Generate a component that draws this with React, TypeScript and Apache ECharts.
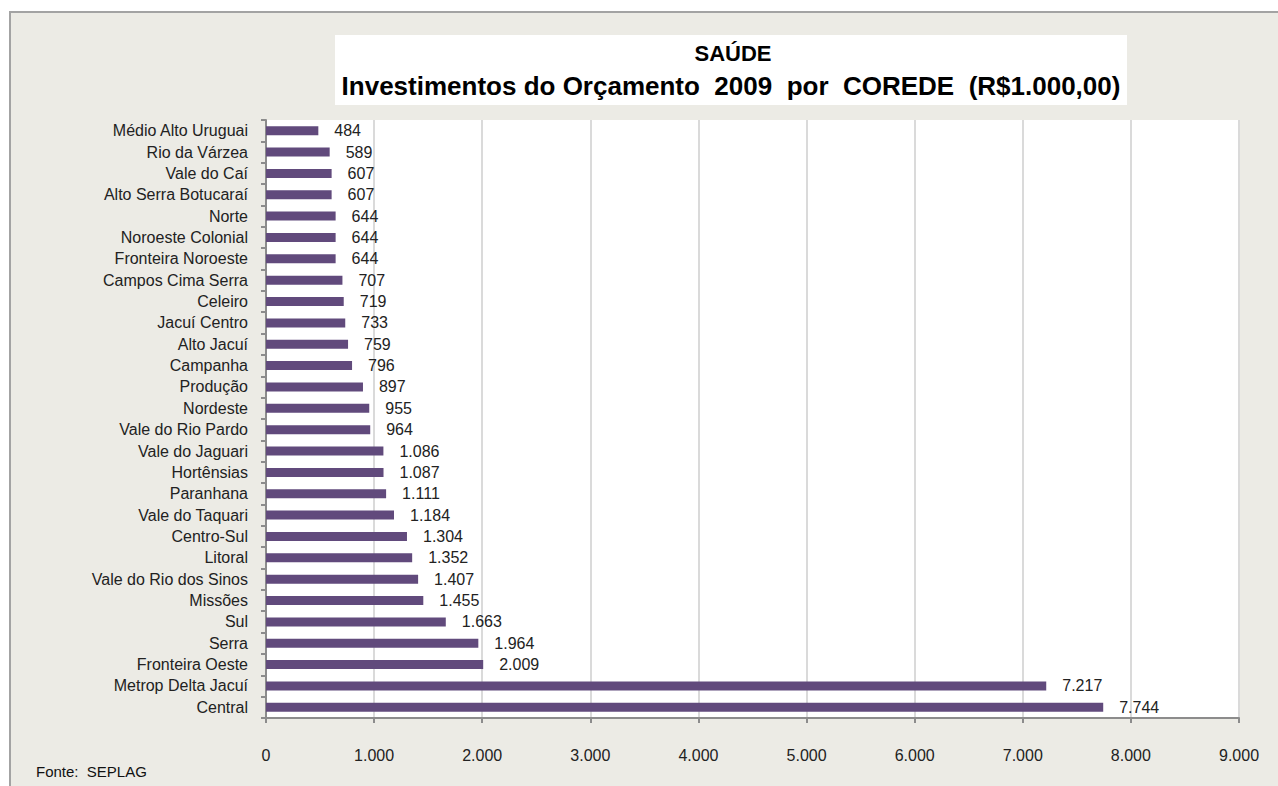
import React, { useEffect, useRef } from "react";
import * as echarts from "echarts";

const categories = [
  "Médio Alto Uruguai",
  "Rio da Várzea",
  "Vale do Caí",
  "Alto Serra Botucaraí",
  "Norte",
  "Noroeste Colonial",
  "Fronteira Noroeste",
  "Campos Cima Serra",
  "Celeiro",
  "Jacuí Centro",
  "Alto Jacuí",
  "Campanha",
  "Produção",
  "Nordeste",
  "Vale do Rio Pardo",
  "Vale do Jaguari",
  "Hortênsias",
  "Paranhana",
  "Vale do Taquari",
  "Centro-Sul",
  "Litoral",
  "Vale do Rio dos Sinos",
  "Missões",
  "Sul",
  "Serra",
  "Fronteira Oeste",
  "Metrop Delta Jacuí",
  "Central",
];

const values = [
  484, 589, 607, 607, 644, 644, 644, 707, 719, 733, 759, 796, 897, 955, 964,
  1086, 1087, 1111, 1184, 1304, 1352, 1407, 1455, 1663, 1964, 2009, 7217, 7744,
];

const titleLine1 = "SAÚDE";
const titleLine2 = "Investimentos do Orçamento  2009  por  COREDE  (R$1.000,00)";
const sourceNote = "Fonte:  SEPLAG";

const fmt = (v: number) =>
  String(Math.round(v)).replace(/\B(?=(\d{3})+(?!\d))/g, ".");

const FONT = "'Liberation Sans', Arial, sans-serif";

export default function App() {
  const ref = useRef<HTMLDivElement>(null);

  useEffect(() => {
    document.body.style.margin = "0";
    const chart = echarts.init(ref.current!, null, { renderer: "svg" });
    chart.setOption({
      animation: false,
      backgroundColor: "#ffffff",
      textStyle: { fontFamily: FONT },
      graphic: [
        {
          type: "rect",
          z: -10,
          shape: { x: 10, y: 12, width: 1300, height: 800 },
          style: { fill: "#ecebe5", stroke: "#a3a3a3", lineWidth: 2 },
        },
        {
          type: "rect",
          z: 5,
          shape: { x: 335, y: 35, width: 792, height: 70 },
          style: { fill: "#ffffff" },
        },
        {
          type: "text",
          z: 6,
          x: 733,
          y: 53,
          style: {
            text: titleLine1,
            fill: "#000",
            font: `bold 22px ${FONT}`,
            textAlign: "center",
            textVerticalAlign: "middle",
          },
        },
        {
          type: "text",
          z: 6,
          x: 731,
          y: 86,
          style: {
            text: titleLine2,
            fill: "#000",
            font: `bold 26px ${FONT}`,
            textAlign: "center",
            textVerticalAlign: "middle",
          },
        },
        {
          type: "text",
          z: 6,
          x: 36,
          y: 771,
          style: {
            text: sourceNote,
            fill: "#111",
            font: `15px ${FONT}`,
            textAlign: "left",
            textVerticalAlign: "middle",
          },
        },
      ],
      grid: {
        left: 266,
        right: 39,
        top: 120,
        bottom: 68,
        show: true,
        backgroundColor: "#ffffff",
        borderWidth: 0,
      },
      xAxis: {
        type: "value",
        min: 0,
        max: 9000,
        interval: 1000,
        axisLine: { show: true, lineStyle: { color: "#8c8c8c", width: 2 } },
        axisTick: { show: true, length: 5, lineStyle: { color: "#8c8c8c", width: 2 } },
        axisLabel: {
          formatter: (v: number) => fmt(v),
          color: "#222",
          fontSize: 16,
          margin: 29,
          fontFamily: FONT,
        },
        splitLine: { show: true, lineStyle: { color: "#dadada", width: 2 } },
      },
      yAxis: {
        type: "category",
        inverse: true,
        data: categories,
        axisLine: { show: true, lineStyle: { color: "#8c8c8c", width: 2 } },
        axisTick: { show: true, length: 5, lineStyle: { color: "#8c8c8c", width: 2 } },
        axisLabel: { color: "#222", fontSize: 16, margin: 18, fontFamily: FONT },
        splitLine: { show: false },
      },
      series: [
        {
          type: "bar",
          data: values,
          barWidth: 9,
          itemStyle: { color: "#614a7c" },
          label: {
            show: true,
            position: "right",
            distance: 16,
            formatter: (p: any) => fmt(p.value),
            color: "#222",
            fontSize: 16,
            fontFamily: FONT,
          },
        },
      ],
    });
    return () => chart.dispose();
  }, []);

  return (
    <div
      ref={ref}
      style={{ position: "fixed", left: 0, top: 0, width: 1278, height: 786 }}
    />
  );
}
